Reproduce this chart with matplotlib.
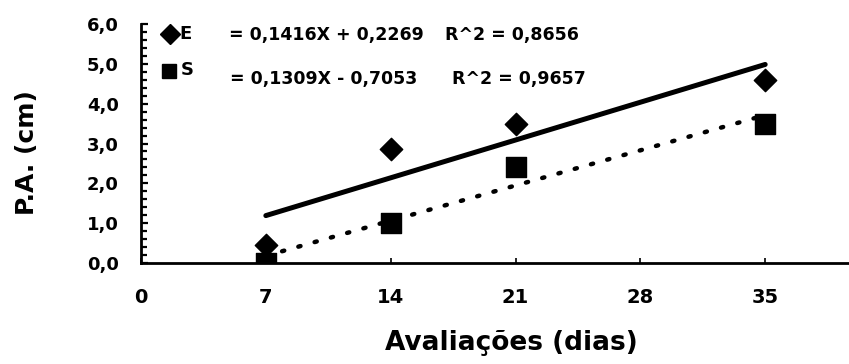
import numpy as np
import matplotlib
matplotlib.use("Agg")
import matplotlib.pyplot as plt
from matplotlib.ticker import MultipleLocator, FuncFormatter

plt.rcParams['font.family'] = ['DejaVu Sans']
plt.rcParams['font.weight'] = 'bold'

days = [7, 14, 21, 35]
E_vals = [0.45, 2.85, 3.5, 4.6]
S_vals = [0.0, 1.0, 2.4, 3.5]
x_ticks = [0, 7, 14, 21, 28, 35]
y_ticks = [0, 1, 2, 3, 4, 5, 6]
eq_E = "= 0,1416X + 0,2269"
r2_E = "R^2 = 0,8656"
eq_S = "= 0,1309X - 0,7053"
r2_S = "R^2 = 0,9657"

W, H = 849, 364
fig = plt.figure(figsize=(W / 100, H / 100), dpi=100)
ax = fig.add_axes([141 / W, 101 / H, 708 / W, 239 / H])

x = np.array(days, dtype=float)
pE = np.polyfit(x, E_vals, 1)
pS = np.polyfit(x, S_vals, 1)
xf = np.array([days[0], days[-1]], dtype=float)
ax.plot(xf, np.polyval(pE, xf), color='black', lw=3.6, solid_capstyle='round', zorder=2)
ax.plot(xf, np.polyval(pS, xf), color='black', lw=3.2, linestyle=(0, (0.5, 3.3)),
        dash_capstyle='round', zorder=2)

ax.scatter(days, E_vals, marker='D', s=130, color='black', zorder=3)
ax.scatter(days, S_vals, marker='s', s=220, color='black', zorder=3)

ax.set_xlim(0, 39.7)
ax.set_ylim(0, 6.0)
ax.set_xticks(x_ticks)
ax.set_yticks(y_ticks)
ax.yaxis.set_minor_locator(MultipleLocator(0.2))
ax.yaxis.set_major_formatter(FuncFormatter(lambda v, p: f"{v:.1f}".replace('.', ',')))
ax.tick_params(axis='y', which='major', direction='in', length=5, width=1.6, labelsize=13, pad=16)
ax.tick_params(axis='y', which='minor', direction='in', length=4.5, width=1.6)
ax.tick_params(axis='x', which='major', direction='in', length=3.5, width=1.2, labelsize=14, pad=18)
for lab in ax.get_xticklabels() + ax.get_yticklabels():
    lab.set_fontweight('bold')

for s in ['top', 'right']:
    ax.spines[s].set_visible(False)
ax.spines['left'].set_linewidth(2)
ax.spines['bottom'].set_linewidth(2)

fig.text(511 / W, 1 - 343 / H, "Avaliações (dias)", fontsize=19, fontweight='bold',
         ha='center', va='center')
fig.text(27 / W, 1 - 153 / H, "P.A. (cm)", fontsize=18, fontweight='bold',
         ha='center', va='center', rotation=90)

# legend-like annotation (pixel positions converted to figure fraction)
def fx(px):
    return px / W

def fy(py):
    return 1 - py / H

fig.add_artist(plt.Line2D([fx(170)], [fy(34)], marker='D', markersize=10.5, color='black',
                          transform=fig.transFigure))
fig.add_artist(plt.Line2D([fx(169)], [fy(71)], marker='s', markersize=10.5, color='black',
                          transform=fig.transFigure))
fig.text(fx(179), fy(34), "E", fontsize=13, fontweight='bold', va='center', ha='left')
fig.text(fx(181), fy(70), "S", fontsize=13, fontweight='bold', va='center', ha='left')
fig.text(fx(229), fy(35), eq_E, fontsize=12.5, fontweight='bold', va='center', ha='left')
fig.text(fx(445), fy(35), r2_E, fontsize=12.5, fontweight='bold', va='center', ha='left')
fig.text(fx(230), fy(79), eq_S, fontsize=12.5, fontweight='bold', va='center', ha='left')
fig.text(fx(452), fy(79), r2_S, fontsize=12.5, fontweight='bold', va='center', ha='left')

fig.savefig("out.png", dpi=100, facecolor='white')
